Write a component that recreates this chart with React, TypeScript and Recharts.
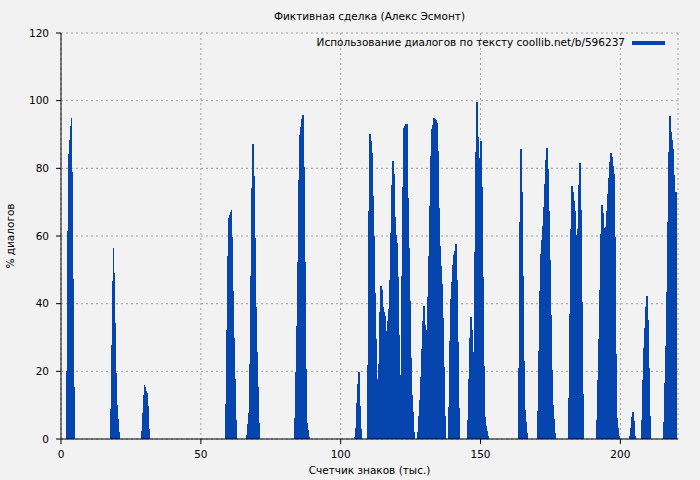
import { BarChart, Bar, XAxis, YAxis, CartesianGrid } from 'recharts';

// thousand characters per bin
const binWidth = 0.357;

// left edge (thousand chars) of each burst of dialogue, and the bin values of that burst (%)
const burstStarts = [1.79, 17.5, 28.57, 58.57, 66.43, 83.57, 105, 109.64, 127.5, 138.57, 145.36, 163.57, 170.36, 181.43, 191.43, 203.21, 207.5, 215.36];
const burstValues = [
  [20.1, 61.5, 84.3, 88.4, 92.6, 94.9, 79, 47.3, 15.5],
  [8.9, 27.8, 46.7, 56.5, 49, 34.4, 19.5, 10, 5.9, 2],
  [2.4, 7.7, 13, 16, 15.4, 14.2, 13.6, 9.8, 3],
  [10.3, 32.2, 54.1, 65.2, 66.2, 67, 67.7, 59.8, 43.7, 29.8, 17.7, 5.6],
  [1.2, 4.4, 7.6, 22.2, 48.3, 74.1, 87.2, 77.7, 59.3, 39.1, 25.6, 15.5, 4.8],
  [6.2, 19.8, 33.4, 52.4, 76.6, 89.9, 92.3, 94.6, 95.8, 80.5, 52.4, 20.7, 4.7, 2.7, 0.7],
  [0.7, 3.3, 10.5, 16.4, 19.8, 9.9, 3],
  [22, 67.5, 90.2, 88.2, 84.4, 71.8, 60.1, 43.1, 29.6, 17.7, 7.1, 22.1, 37.5, 45.2, 44, 39.1, 37.4, 36.4, 31.9, 31.9, 34.9, 38.4, 47, 60.8, 75.1, 82.2, 78.3, 65.7, 60.3, 57.8, 48, 30.7, 18.6, 18.9, 48.2, 74.6, 91.9, 92.5, 93.1, 93.1, 71.1, 56.5, 40.8, 24, 13, 7.9, 2.2],
  [2.2, 6.8, 11.5, 18.4, 26.6, 34.9, 39.3, 33.7, 23, 32.2, 42, 54.1, 68.9, 83.7, 91.6, 92.8, 94.9, 94.6, 94.3, 93.3, 85.1, 68.2, 57, 51.1, 45.8, 35.8, 21.4, 6.8],
  [9.6, 29.1, 41.4, 46.5, 51.4, 54.4, 55.6, 57.6, 47, 28.8, 9.1],
  [5.6, 17.7, 29.9, 36, 32.2, 25.8, 23.7, 55.3, 84.9, 99.7, 89.4, 73.1, 83.2, 88.2, 74.6, 48, 21.6, 6.6, 3.8, 2.5, 0.9],
  [21.1, 64.2, 85.7, 73.1, 48.3, 23.1, 8.6, 5, 1.7],
  [8.3, 26.1, 43.7, 54.7, 58.8, 63, 68.5, 75.4, 82.5, 86, 79.7, 67.5, 52.9, 36.7, 20.4, 10, 5.9, 1.7],
  [12.2, 36.9, 62, 74.8, 73.1, 70.3, 67.5, 60.3, 49, 62, 75.1, 81.7, 67.7, 40.4, 13.2],
  [5.6, 17.4, 29.6, 44, 60.6, 69.2, 66.7, 62.5, 57.8, 62.8, 67.5, 72.3, 77.2, 82, 84.6, 83.3, 80.7, 78.3, 59.8, 25, 6.1, 3.3, 0.9],
  [0.9, 3.3, 6.4, 7.9, 5.3, 0.9],
  [5.6, 17.4, 26.8, 32.9, 39.1, 42.3, 35.2, 21.1, 6.8],
  [5.1, 16.5, 27.6, 43.5, 64.2, 84.9, 95.6, 90.8, 88.4, 85.6, 78, 73, 73],
];

const xTicks = [0, 50, 100, 150, 200];
const yTicks = [0, 20, 40, 60, 80, 100, 120];
const xMax = 220.6;

const data = burstStarts.flatMap((start, b) =>
  burstValues[b].map((v, i) => ({ x: start + (i + 0.5) * binWidth, v }))
);

const font = '"DejaVu Sans", sans-serif';
const fs = 10.5;
const blue = '#0645ad';

// bins are ~1px wide: widen a little and snap so neighbours join without seams
const Bin = (p: any) =>
  p.height > 0 ? (
    <rect x={p.x - 0.3} y={p.y} width={p.width + 0.6} height={p.height} fill={blue} shapeRendering="crispEdges" />
  ) : null;

export default function App() {
  return (
    <div style={{ position: 'absolute', left: 0, top: 0, width: 700, height: 480, background: '#f2f2f2', fontFamily: font }}>
      <BarChart width={700} height={480} data={data} margin={{ top: 33, right: 22, bottom: 0, left: 0 }} barCategoryGap={0} barGap={0}>
        <CartesianGrid stroke="#a0a0a0" strokeDasharray="2 3" />
        <XAxis
          dataKey="x"
          type="number"
          domain={[0, xMax]}
          ticks={xTicks}
          height={41}
          tickSize={5}
          tickMargin={7}
          axisLine={{ stroke: '#000' }}
          tickLine={{ stroke: '#000' }}
          tick={{ fill: '#000', fontSize: fs, fontFamily: font }}
        />
        <XAxis xAxisId="top" orientation="top" type="number" domain={[0, xMax]} height={0} tick={false} tickLine={false} axisLine={{ stroke: '#000' }} />
        <YAxis
          domain={[0, 120]}
          ticks={yTicks}
          width={61}
          tickSize={5}
          tickMargin={7}
          axisLine={{ stroke: '#000' }}
          tickLine={{ stroke: '#000' }}
          tick={{ fill: '#000', fontSize: fs, fontFamily: font }}
        />
        <YAxis yAxisId="right" orientation="right" domain={[0, 120]} width={0} tick={false} tickLine={false} axisLine={{ stroke: '#000' }} />
        <Bar dataKey="v" fill={blue} shape={Bin} isAnimationActive={false} />
      </BarChart>

      <div style={{ position: 'absolute', left: 61, width: 617, top: 10, textAlign: 'center', fontSize: fs }}>
        Фиктивная сделка (Алекс Эсмонт)
      </div>
      <div style={{ position: 'absolute', right: 75, top: 36, fontSize: fs }}>
        Использование диалогов по тексту coollib.net/b/596237
      </div>
      <div style={{ position: 'absolute', left: 632, top: 41, width: 33, height: 4, background: blue }} />
      <div style={{ position: 'absolute', left: 61, width: 617, top: 464, textAlign: 'center', fontSize: fs }}>
        Счетчик знаков (тыс.)
      </div>
      <div style={{ position: 'absolute', left: 10, top: 236, fontSize: fs, transform: 'translate(-50%, -50%) rotate(-90deg)', whiteSpace: 'nowrap' }}>
        % диалогов
      </div>
    </div>
  );
}
